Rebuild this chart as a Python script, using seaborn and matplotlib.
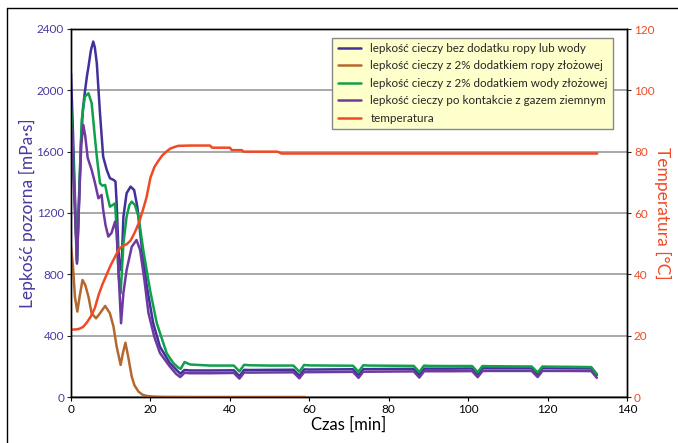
import matplotlib
matplotlib.use("Agg")
import matplotlib.pyplot as plt
import seaborn as sns
import numpy as np
from matplotlib.lines import Line2D

# ---------------- data ----------------
tail_t = [28.6, 30, 35, 41, 42.4, 43.6, 45, 50, 56, 57.5, 58.7, 60, 65, 71, 72.4, 73.6,
          75, 80, 86.3, 87.7, 88.9, 90, 95, 101, 102.4, 103.6, 105, 110, 116, 117.5,
          118.7, 120, 125, 131, 132.4]

t_bez = [0, 0.5, 1.0, 1.5, 2.0, 2.5, 3.0, 3.5, 4.0, 4.4, 5.0, 5.6, 6.0, 6.5, 7.3, 8.1, 9.0,
         9.8, 10.7, 11.2, 11.5, 11.9, 12.3, 12.8, 13.2, 14.0, 15.0, 15.9, 16.7, 17.8, 19.1,
         20.7, 22.4, 24.9, 26.5, 27.5]
v_bez = [2110, 1720, 1300, 870, 1250, 1650, 1880, 1990, 2090, 2154, 2260, 2318, 2280, 2176,
         1850, 1567, 1481, 1427, 1416, 1405, 1263, 980, 828, 900, 1176, 1329, 1372, 1350,
         1241, 980, 720, 481, 328, 220, 178, 152]
tail_bez = [176, 173, 173, 174, 136, 177, 176, 177, 178, 138, 180, 179, 180, 181, 141, 182,
            182, 183, 184, 144, 185, 185, 185, 186, 146, 187, 187, 187, 187, 147, 188, 188,
            187, 186, 142]

t_ropa = [0, 0.5, 1.0, 1.6, 2.2, 2.9, 3.6, 4.4, 5.2, 6.3, 7.3, 8.6, 9.8, 10.7, 11.5, 12.5,
          13.1, 13.7, 14.4, 15.3, 16.0, 17.0, 18.0, 19.0, 20.5, 23, 30, 40, 50, 59]
v_ropa = [980, 850, 650, 557, 660, 763, 730, 654, 546, 513, 546, 594, 546, 459, 328, 209,
          290, 354, 263, 132, 75, 35, 15, 7, 3, 1, 0, 0, 0, 0]

t_woda = [0, 0.5, 1.0, 1.5, 2.0, 2.7, 3.5, 4.4, 5.2, 6.0, 6.5, 7.3, 7.9, 8.6, 9.2, 9.8,
          10.5, 11.1, 11.5, 12.0, 12.5, 13.2, 14.0, 14.7, 15.3, 16.1, 17.0, 18.2, 19.9,
          21.6, 24.1, 25.8, 27.0, 27.6]
v_woda = [1900, 1600, 1250, 890, 1300, 1807, 1959, 1981, 1916, 1698, 1567, 1394, 1378, 1383,
          1307, 1241, 1252, 1263, 1089, 785, 676, 1002, 1176, 1252, 1274, 1252, 1176, 959,
          698, 481, 285, 220, 192, 183]
tail_woda = [228, 212, 205, 205, 167, 210, 207, 205, 205, 165, 209, 206, 205, 204, 165, 207,
             205, 204, 203, 163, 205, 203, 202, 202, 162, 202, 201, 200, 199, 160, 199, 198,
             197, 195, 150]

t_gaz = [0, 0.5, 1.0, 1.5, 2.0, 2.6, 3.1, 3.6, 4.2, 5.2, 6.0, 6.9, 7.7, 8.1, 8.7, 9.4, 10.2,
         11.1, 11.5, 12.0, 12.6, 13.2, 14.0, 15.3, 16.5, 17.4, 18.5, 19.5, 21.0, 22.4, 24.9,
         26.5, 27.5]
v_gaz = [1800, 1500, 1200, 880, 1250, 1650, 1774, 1700, 1560, 1481, 1400, 1296, 1318, 1220,
         1120, 1046, 1070, 1144, 1070, 800, 481, 680, 828, 980, 1024, 959, 760, 548, 390,
         287, 198, 150, 130]
tail_gaz = [158, 155, 155, 157, 120, 160, 159, 160, 161, 122, 162, 162, 163, 164, 125, 165,
            165, 166, 167, 127, 168, 168, 168, 169, 129, 169, 170, 170, 170, 130, 170, 170,
            170, 169, 125]

t_temp = [0, 1, 2, 3, 4, 5, 6, 7, 8, 9, 10, 11, 12, 13, 14, 15, 16, 17, 18, 19, 20, 21, 22,
          23, 24, 25, 26, 27, 30, 35, 35.5, 40, 40.5, 43, 43.5, 52, 53, 132.5]
v_temp = [22, 22, 22.2, 22.8, 24.3, 26.3, 29, 33.5, 37, 40, 43, 45.5, 48, 49.3, 49.8, 51,
          53.5, 56.5, 60.5, 65, 71.5, 75, 77, 78.8, 80, 81, 81.5, 81.9, 82, 82, 81.3, 81.3,
          80.5, 80.5, 80, 80, 79.4, 79.4]

labels = ["lepkość cieczy bez dodatku ropy lub wody",
          "lepkość cieczy z 2% dodatkiem ropy złożowej",
          "lepkość cieczy z 2% dodatkiem wody złożowej",
          "lepkość cieczy po kontakcie z gazem ziemnym",
          "temperatura"]
colors = ["#41319B", "#B5682E", "#10A04C", "#6E3A9F", "#F04A24"]

x_ticks = [0, 20, 40, 60, 80, 100, 120, 140]
y_ticks = [0, 400, 800, 1200, 1600, 2000, 2400]
t_ticks = [0, 20, 40, 60, 80, 100, 120]

# ---------------- plot ----------------
sns.set_style("white")
plt.rcParams['font.family'] = ['Lato', 'DejaVu Sans']

fig = plt.figure(figsize=(6.78, 4.43), dpi=100)
ax = fig.add_axes([71/678, 1-397/443, (627-71)/678, (397-29)/443])
ax2 = ax.twinx()

lw = 1.8
series = [(t_bez + tail_t, v_bez + tail_bez),
          (t_ropa, v_ropa),
          (t_woda + tail_t, v_woda + tail_woda),
          (t_gaz + tail_t, v_gaz + tail_gaz)]
draw_order = [1, 3, 0, 2]
for i in draw_order:
    xs, ys = series[i]
    sns.lineplot(x=xs, y=ys, ax=ax, color=colors[i], linewidth=lw, errorbar=None,
                 zorder=3 + i)
sns.lineplot(x=t_temp, y=v_temp, ax=ax2, color=colors[4], linewidth=lw, errorbar=None)

ax.set_xlim(0, 140)
ax.set_ylim(0, 2400)
ax2.set_ylim(0, 120)
ax.set_xticks(x_ticks)
ax.set_yticks(y_ticks)
ax2.set_yticks(t_ticks)

ax.yaxis.grid(True, color="#999999", linewidth=1.2)
ax.xaxis.grid(False)
ax2.grid(False)
ax.set_axisbelow(True)

for a in (ax, ax2):
    for s in a.spines.values():
        s.set_color("black")
        s.set_linewidth(1.0)
        s.set_visible(True)

ax.tick_params(axis='x', colors='black', labelsize=8.5, length=3, direction='out',
               bottom=True, pad=2)
ax.tick_params(axis='y', length=3, direction='out', left=True, labelsize=8.5,
               labelcolor="#4A3AA0", pad=2)
ax2.tick_params(axis='y', length=3, direction='out', right=True, labelsize=8.5,
                labelcolor="#F04A24", pad=2)

ax.set_xlabel("Czas [min]", fontsize=12, color="black", labelpad=1)
ax.set_ylabel("Lepkość pozorna [mPa·s]", fontsize=12.5, color="#4A3AA0")
ax.yaxis.set_label_coords((36 - 71) / 556, 0.5)
ax2.set_ylabel("Temperatura [°C]", fontsize=12.5, color="#F04A24",
               rotation=270, va='bottom')
ax2.yaxis.set_label_coords((654 - 71) / 556, 0.5)

handles = [Line2D([0], [0], color=c, linewidth=lw) for c in colors]
leg = ax2.legend(handles, labels, loc="upper right", bbox_to_anchor=(0.975, 0.976),
                 borderaxespad=0, fontsize=8.4, frameon=True, fancybox=False,
                 facecolor="#FFFFCC", edgecolor="#888888", framealpha=1,
                 handlelength=2.0, labelspacing=0.55, borderpad=0.45)
leg.get_frame().set_linewidth(1.0)
leg.set_zorder(20)

# outer frame lines
fig.add_artist(Line2D([7/678, 7/678], [0, 1-8/443], color="black", linewidth=1,
                      transform=fig.transFigure))
fig.add_artist(Line2D([7/678, 1], [1-8/443, 1-8/443], color="black", linewidth=1,
                      transform=fig.transFigure))

fig.savefig("out.png", dpi=100)
